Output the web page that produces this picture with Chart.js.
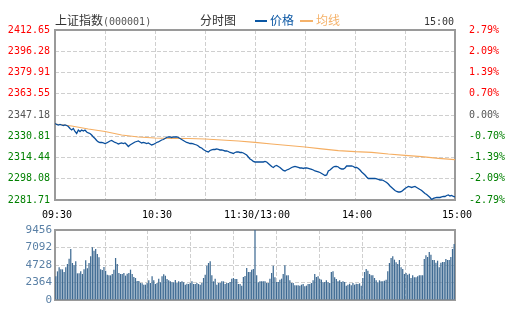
<!DOCTYPE html>
<html lang="zh-CN">
<head>
<meta charset="utf-8">
<title>上证指数 分时图</title>
<script src="https://cdn.jsdelivr.net/npm/chart.js@4.4.1/dist/chart.umd.min.js"></script>
<style>
  html, body { margin: 0; padding: 0; background: #fff; }
  #wrap { position: relative; width: 505px; height: 330px; overflow: hidden; }
  #wrap canvas { position: absolute; left: 0; top: 0; }
  .t { position: absolute; font: 12px "Noto Sans CJK SC", sans-serif; line-height: 12px; white-space: nowrap; color: #333; }
  .num { font-family: "DejaVu Sans Mono", monospace; font-size: 10px; }
  .dash { position: absolute; height: 2px; }
</style>
</head>
<body>
<div id="wrap">
  <canvas id="grafico" width="505" height="330"></canvas>
  <canvas id="volume" width="505" height="330"></canvas>
  <div class="t" style="left:55px;top:14px">上证指数</div>
  <div class="t num" style="left:103px;top:16px;color:#555">(000001)</div>
  <div class="t" style="left:200px;top:14px">分时图</div>
  <div class="dash" style="left:255px;top:20px;width:12px;background:#0b57a4"></div>
  <div class="t" style="left:270px;top:14px;color:#0b57a4">价格</div>
  <div class="dash" style="left:300px;top:20px;width:13px;background:#f5b26a"></div>
  <div class="t" style="left:316px;top:14px;color:#f5b26a">均线</div>
  <div class="t num" style="left:424px;top:16px">15:00</div>
</div>
<script>
// 上证指数 分时 09:30-11:30 / 13:00-15:00, 每分钟一个点 (0..240)
const prevClose = 2347.18;

const price = [
  2340.63, 2339.87, 2339.48, 2339.87, 2339.48, 2339.10, 2339.48, 2339.10, 2338.33, 2336.79,
  2335.63, 2336.79, 2334.47, 2332.93, 2335.63, 2334.47, 2335.63, 2334.86, 2335.63, 2334.09,
  2333.32, 2332.93, 2331.78, 2330.24, 2329.08, 2327.54, 2326.39, 2326.00, 2326.00, 2325.62,
  2325.23, 2325.62, 2326.39, 2327.16, 2327.54, 2326.77, 2326.00, 2325.62, 2324.85, 2325.23,
  2325.62, 2325.23, 2325.62, 2324.46, 2322.92, 2324.08, 2324.85, 2325.62, 2326.39, 2326.77,
  2327.16, 2326.39, 2325.62, 2326.00, 2325.62, 2325.23, 2325.62, 2324.85, 2324.08, 2324.46,
  2325.23, 2326.00, 2326.39, 2327.16, 2327.93, 2328.31, 2329.08, 2329.85, 2330.24, 2330.24,
  2329.85, 2330.24, 2330.24, 2330.24, 2329.85, 2329.08, 2328.31, 2327.54, 2326.77, 2326.00,
  2325.62, 2325.23, 2325.23, 2324.85, 2324.46, 2324.08, 2323.31, 2322.15, 2321.77, 2320.61,
  2319.84, 2319.07, 2318.69, 2319.84, 2320.23, 2320.61, 2320.61, 2321.00, 2320.61, 2320.23,
  2320.23, 2319.84, 2319.46, 2319.46, 2319.07, 2318.30, 2317.92, 2317.53, 2318.30, 2318.69,
  2318.69, 2318.30, 2318.30, 2317.92, 2317.15, 2316.38, 2314.84, 2313.30, 2312.53, 2311.37,
  2310.99, 2310.99, 2310.99, 2310.99, 2310.99, 2310.99, 2311.37, 2310.99, 2309.83, 2308.68,
  2307.52, 2306.75, 2307.91, 2308.29, 2307.52, 2306.75, 2305.60, 2304.44, 2304.06, 2304.83,
  2305.21, 2305.98, 2306.75, 2307.14, 2307.52, 2307.14, 2306.75, 2306.37, 2306.37, 2305.98,
  2306.37, 2306.37, 2305.98, 2305.60, 2305.21, 2304.83, 2304.06, 2303.67, 2303.29, 2302.90,
  2302.13, 2301.36, 2300.59, 2300.98, 2304.06, 2304.83, 2305.98, 2307.14, 2307.52, 2307.52,
  2307.14, 2305.98, 2305.60, 2305.60, 2306.37, 2307.91, 2307.91, 2307.91, 2307.91, 2307.52,
  2306.75, 2306.75, 2305.98, 2304.83, 2303.29, 2302.13, 2300.98, 2299.44, 2298.28, 2298.28,
  2298.28, 2298.28, 2298.28, 2297.90, 2297.51, 2297.13, 2297.13, 2296.74, 2295.97, 2295.20,
  2294.05, 2292.51, 2291.35, 2290.20, 2289.04, 2288.27, 2287.89, 2287.89, 2288.27, 2289.43,
  2290.58, 2291.35, 2292.12, 2291.74, 2291.35, 2291.74, 2292.12, 2291.35, 2290.58, 2289.81,
  2289.04, 2287.89, 2286.72, 2285.95, 2284.81, 2283.65, 2282.12, 2282.89, 2283.27, 2283.65,
  2283.65, 2283.65, 2284.04, 2284.42, 2284.42, 2285.19, 2285.58, 2284.81, 2285.19, 2284.42,
  2284.04
];

// 均价线, 每10分钟取一个点
const avgMinutes = [0, 10, 20, 30, 40, 50, 60, 70, 80, 90, 100, 110, 120, 130, 140, 150, 160, 170, 180, 190, 200, 210, 220, 230, 240];
const avgPrice = [
  2340.25, 2338.71, 2336.40, 2334.47, 2331.78, 2330.24, 2329.47, 2329.24, 2329.08, 2328.70,
  2327.93, 2327.16, 2326.15, 2324.85, 2323.70, 2322.54, 2321.15, 2319.69, 2318.90, 2318.45,
  2317.15, 2316.14, 2315.06, 2313.83, 2312.76
];

const volume = [
  3195, 3870, 4410, 4140, 4140, 3780, 4410, 4860, 5580, 6890,
  5000, 4680, 5220, 3600, 3600, 3870, 3510, 4140, 5360, 4280,
  5000, 5900, 7110, 6660, 6890, 6210, 5760, 4140, 4050, 4460,
  3960, 3420, 3330, 3330, 3510, 4100, 5670, 4860, 3650, 3510,
  3510, 3650, 3290, 3560, 3650, 4100, 3510, 3110, 2970, 2570,
  2570, 2300, 2250, 2070, 2070, 2300, 2660, 2300, 3195, 2660,
  2160, 2300, 2880, 2390, 3200, 3470, 3290, 2840, 2660, 2520,
  2390, 2390, 2700, 2300, 2520, 2430, 2520, 2390, 2070, 2200,
  2160, 2300, 2520, 2160, 2160, 2300, 2160, 2070, 2300, 2970,
  3420, 4640, 5000, 5220, 3330, 2520, 2880, 2070, 2300, 2300,
  2520, 2520, 2160, 2300, 2300, 2430, 2880, 2970, 2840, 2840,
  2160, 2160, 1940, 3110, 3240, 4320, 3780, 3780, 4100, 4190,
  9456, 3330, 2390, 2520, 2520, 2520, 2520, 2300, 2300, 2880,
  3650, 4640, 3060, 2430, 2430, 2750, 2880, 3510, 4680, 3330,
  3330, 2660, 2300, 2300, 1980, 1980, 1980, 1940, 2070, 2160,
  1850, 1940, 2160, 2160, 2300, 2660, 3510, 3110, 3200, 2840,
  2750, 2390, 2430, 2660, 2390, 2300, 3780, 3870, 3060, 2840,
  2520, 2660, 2430, 2520, 2430, 1940, 2070, 2200, 1980, 2300,
  2070, 2200, 2160, 2250, 1940, 2970, 3780, 4190, 3960, 3510,
  3330, 3330, 2970, 2660, 2390, 2660, 2520, 2520, 2610, 2750,
  3870, 5000, 5670, 5900, 5450, 5090, 4860, 5400, 4410, 4190,
  3510, 3650, 3420, 3560, 2970, 3330, 3060, 3060, 3200, 3330,
  3330, 3330, 5540, 6030, 5810, 6480, 6120, 5400, 5400, 5040,
  5310, 4410, 5040, 5130, 5130, 5540, 5400, 5400, 5810, 6890,
  7560
];

const priceTicks = [2281.71, 2298.08, 2314.44, 2330.81, 2347.18, 2363.55, 2379.91, 2396.28, 2412.65];
const pctTicks = ['-2.79%', '-2.09%', '-1.39%', '-0.70%', '0.00%', '0.70%', '1.39%', '2.09%', '2.79%'];
const volTicks = [0, 2364, 4728, 7092, 9456];
const gridMinutes = [0, 30, 60, 90, 120, 150, 180, 210, 240];
const timeMinutes = [0, 60, 120, 180, 240];
const timeLabels = ['09:30', '10:30', '11:30/13:00', '14:00', '15:00'];

const mono = { family: 'DejaVu Sans Mono', size: 10 };
const gridColor = '#cfcfcf';
const tickColor = (i) => i > 4 ? '#ff0000' : (i < 4 ? '#008000' : '#555555');

// 外框
const moldura = {
  id: 'moldura',
  beforeDatasetsDraw(chart) {
    const { ctx, chartArea: a } = chart;
    ctx.save();
    ctx.strokeStyle = '#9a9a9a';
    ctx.lineWidth = 2;
    ctx.strokeRect(a.left, a.top, a.right - a.left, a.bottom - a.top);
    ctx.restore();
  }
};

new Chart(document.getElementById('grafico').getContext('2d'), {
  type: 'line',
  data: {
    datasets: [
      {
        label: '价格',
        data: price.map((v, i) => ({ x: i, y: v })),
        borderColor: '#0a4f9c',
        borderWidth: 1.3,
        pointRadius: 0,
        yAxisID: 'y'
      },
      {
        label: '均线',
        data: avgPrice.map((v, i) => ({ x: avgMinutes[i], y: v })),
        borderColor: '#f5ae62',
        borderWidth: 1.2,
        pointRadius: 0,
        yAxisID: 'y'
      }
    ]
  },
  options: {
    responsive: false,
    animation: false,
    devicePixelRatio: 1,
    layout: { autoPadding: false, padding: { left: 0, right: 0, top: 30, bottom: 110 } },
    plugins: { legend: { display: false }, tooltip: { enabled: false } },
    scales: {
      x: {
        type: 'linear', min: 0, max: 240,
        afterBuildTicks: s => { s.ticks = gridMinutes.map(v => ({ value: v })); },
        afterFit: s => { s.height = 20; },
        grid: { color: gridColor, drawTicks: false },
        border: { display: false, dash: [4, 2] },
        ticks: {
          autoSkip: false, maxRotation: 0, padding: 9, labelOffset: 2, color: '#000', font: mono,
          callback: v => { const k = timeMinutes.indexOf(v); return k < 0 ? '' : timeLabels[k]; }
        }
      },
      y: {
        position: 'left', min: priceTicks[0], max: priceTicks[priceTicks.length - 1],
        afterBuildTicks: s => { s.ticks = priceTicks.map(v => ({ value: v })); },
        afterFit: s => { s.width = 55; },
        grid: { color: gridColor, drawTicks: false },
        border: { display: false, dash: [4, 2] },
        ticks: { padding: 5, font: mono, color: c => tickColor(c.index), callback: v => v.toFixed(2) }
      },
      yp: {
        position: 'right', min: priceTicks[0], max: priceTicks[priceTicks.length - 1],
        afterBuildTicks: s => { s.ticks = priceTicks.map(v => ({ value: v })); },
        afterFit: s => { s.width = 50; },
        grid: { display: false, drawTicks: false },
        border: { display: false },
        ticks: { padding: 14, font: mono, color: c => tickColor(c.index), callback: (v, i) => pctTicks[i] }
      }
    }
  },
  plugins: [moldura]
});

// 成交量柱, 每分钟一根
new Chart(document.getElementById('volume').getContext('2d'), {
  type: 'bar',
  data: {
    labels: volume.map((v, i) => i),
    datasets: [{
      label: '成交量',
      data: volume,
      backgroundColor: '#3f6b93',
      barPercentage: 0.75,
      categoryPercentage: 1,
      xAxisID: 'x'
    }]
  },
  options: {
    responsive: false,
    animation: false,
    devicePixelRatio: 1,
    layout: { autoPadding: false, padding: { left: 0, right: 50, top: 230, bottom: 30 } },
    plugins: { legend: { display: false }, tooltip: { enabled: false } },
    scales: {
      x: {
        type: 'category', offset: true,
        afterFit: s => { s.height = 0; },
        grid: { display: false, drawTicks: false },
        border: { display: false },
        ticks: { display: false }
      },
      xg: {
        type: 'linear', position: 'bottom', min: 0, max: 240,
        afterBuildTicks: s => { s.ticks = gridMinutes.slice(1, -1).map(v => ({ value: v })); },
        afterFit: s => { s.height = 0; },
        grid: { color: gridColor, drawTicks: false },
        border: { display: false, dash: [4, 2] },
        ticks: { display: false }
      },
      y: {
        min: 0, max: volTicks[volTicks.length - 1],
        afterBuildTicks: s => { s.ticks = volTicks.map(v => ({ value: v })); },
        afterFit: s => { s.width = 55; },
        grid: { color: gridColor, drawTicks: false },
        border: { display: false, dash: [4, 2] },
        ticks: { padding: 3, font: { family: 'DejaVu Sans Mono', size: 11 }, color: '#5a80a6', callback: v => String(v) }
      }
    }
  },
  plugins: [moldura]
});
</script>
</body>
</html>
